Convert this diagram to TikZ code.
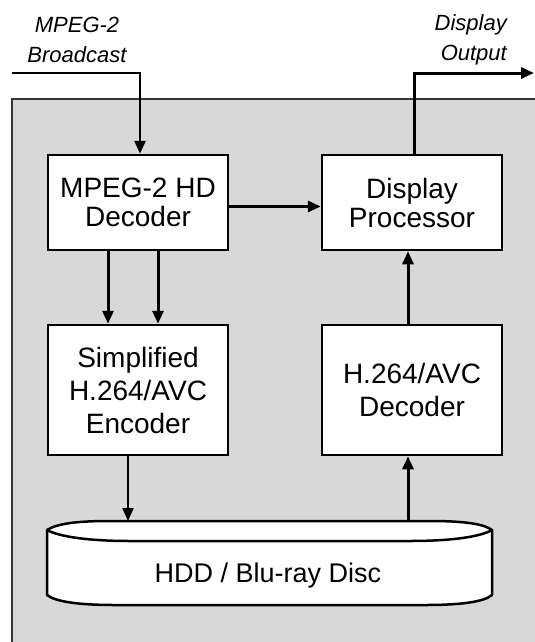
\documentclass[tikz,border=0pt]{standalone}
\usepackage{fontspec}
\setmainfont{Liberation Sans}
\usetikzlibrary{arrows.meta}
\definecolor{bggray}{RGB}{216,216,216}
\definecolor{framegray}{RGB}{55,55,55}
\begin{document}
\begin{tikzpicture}[x=1pt,y=-1pt,
  blk/.style={draw=black,line width=2.5pt,fill=white,inner sep=0pt,align=center,minimum width=180pt},
  topfont/.style={font=\fontsize{28}{29}\selectfont},
  lowfont/.style={font=\fontsize{28}{33}\selectfont},
  conn/.style={line width=3pt,-{Triangle[length=13pt,width=11pt]}},
  thinconn/.style={line width=2pt,-{Triangle[length=13pt,width=11pt]}},
  lbl/.style={font=\fontsize{22}{30}\selectfont\itshape,inner sep=0pt}]
\useasboundingbox (0,0) rectangle (535,642);
\clip (0,0) rectangle (535,642);
\fill[white] (0,0) rectangle (535,642);
\draw[draw=framegray,fill=bggray,line width=1.8pt] (12,99) rectangle (580,700);

% blocks
\node[blk,topfont,minimum height=95pt] (dec) at (138,202.5) {MPEG-2 HD\\Decoder};
\node[blk,topfont,minimum height=95pt] (dp) at (412,202.5) {Display\\Processor};
\node[blk,lowfont,minimum height=130pt] (enc) at (138,390) {Simplified\\H.264/AVC\\Encoder};
\node[blk,lowfont,minimum height=130pt] (hdec) at (412,390) {H.264/AVC\\Decoder};

% disk
\draw[line width=2.5pt,fill=white,line join=round]
  (47,530) .. controls (58,523) and (80,521) .. (110,521) -- (430,521)
  .. controls (465,521) and (484,524) .. (492,530) -- (492,595)
  .. controls (484,602) and (460,605) .. (425,605) -- (115,605)
  .. controls (80,605) and (56,602) .. (47,595) -- cycle;
\draw[line width=2.5pt]
  (47,530) .. controls (60,537) and (90,541) .. (130,541) -- (410,541)
  .. controls (450,541) and (480,537) .. (492,530);
\node[font=\fontsize{27}{30}\selectfont,inner sep=0pt] (disk) at (268,576) {HDD / Blu-ray Disc};
\coordinate (dtopA) at (128,521);
\coordinate (dtopB) at (408,521);

% labels
\node[lbl,align=center] (inlbl) at (77,40) {MPEG-2\\Broadcast};
\node[lbl,align=right,anchor=east] (outlbl) at (507,40) {Display\\Output};
\coordinate (instart) at (12,73);
\coordinate (outend) at (534,73);

% connectors
\draw[line width=2.5pt,-{Triangle[length=13pt,width=11pt]}] (instart) -| ([xshift=2pt]dec.north);
\draw[conn] ([xshift=2pt]dp.north) |- (outend);
\draw[conn] ([yshift=-4pt]dec.east) -- ([yshift=-4pt]dp.west);
\draw[conn] ([xshift=-30pt]dec.south) -- ([xshift=-30pt]enc.north);
\draw[conn] ([xshift=20pt]dec.south) -- ([xshift=20pt]enc.north);
\draw[conn] ([xshift=-4pt]hdec.north) -- ([xshift=-4pt]dp.south);
\draw[thinconn] (enc.south -| dtopA) -- (dtopA);
\draw[conn] (dtopB) -- (hdec.south -| dtopB);
\end{tikzpicture}
\end{document}
